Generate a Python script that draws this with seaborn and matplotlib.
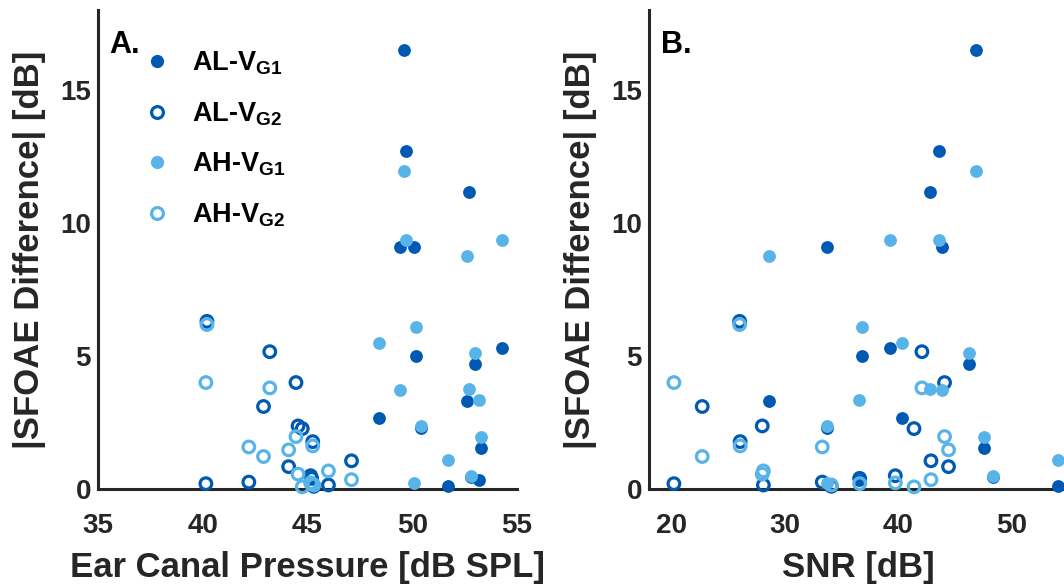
import matplotlib
matplotlib.use("Agg")
import matplotlib.pyplot as plt
import seaborn as sns
from matplotlib.lines import Line2D

# ---------------- data ----------------
# Group V_G1 subjects: ear-canal pressure [dB SPL], SNR [dB], |SFOAE difference| [dB]
vg1_pressure = [49.6, 49.7, 52.7, 50.1, 49.4, 54.3, 50.2, 53.0, 52.6, 48.4, 50.4, 53.3, 53.2, 51.7, 52.8]
vg1_snr      = [46.9, 43.6, 42.8, 33.7, 43.9, 39.3, 36.8, 46.3, 28.6, 40.3, 33.7, 47.6, 36.5, 54.1, 48.4]
al_vg1       = [16.5, 12.7, 11.15, 9.1, 9.08, 5.3, 5.0, 4.7, 3.3, 2.65, 2.3, 1.55, 0.33, 0.12, 0.45]
ah_vg1       = [11.95, 9.35, 3.77, 0.23, 3.73, 9.35, 6.07, 5.12, 8.75, 5.47, 2.37, 1.97, 3.35, 1.1, 0.5]

# Group V_G2 subjects
vg2_pressure = [40.2, 43.2, 40.15, 44.45, 42.9, 44.55, 44.75, 45.25, 42.2, 44.1, 47.1, 45.15, 46.0, 45.2, 45.3]
vg2_snr      = [26.0, 42.1, 20.2, 44.1, 22.7, 28.0, 41.4, 26.05, 33.3, 44.45, 42.9, 39.75, 28.1, 36.6, 34.1]
al_vg2       = [6.3, 5.16, 0.2, 4.0, 3.1, 2.37, 2.27, 1.78, 0.26, 0.84, 1.06, 0.5, 0.15, 0.4, 0.1]
ah_vg2       = [6.18, 3.8, 4.0, 1.97, 1.22, 0.56, 0.08, 1.62, 1.58, 1.47, 0.35, 0.23, 0.68, 0.2, 0.15]

series_labels = [r"AL-V$_{\mathbf{G1}}$", r"AL-V$_{\mathbf{G2}}$",
                 r"AH-V$_{\mathbf{G1}}$", r"AH-V$_{\mathbf{G2}}$"]
x_ticks_a = [35, 40, 45, 50, 55]
x_ticks_b = [20, 30, 40, 50]
y_ticks = [0, 5, 10, 15]

# ---------------- style ----------------
sns.set_style("white")
plt.rcParams["font.family"] = ["Liberation Sans", "DejaVu Sans"]
plt.rcParams["font.weight"] = "bold"
plt.rcParams["mathtext.fontset"] = "custom"
plt.rcParams["mathtext.rm"] = "Liberation Sans:bold"
plt.rcParams["mathtext.bf"] = "Liberation Sans:bold"
plt.rcParams["mathtext.it"] = "Liberation Sans:bold"

DARK = "#0059B3"
LIGHT = "#58B4E8"
INK = "#262626"
S_FILL = 85
S_OPEN = 70
LW_OPEN = 2.3

fig = plt.figure(figsize=(10.64, 5.86), dpi=100)
axA = fig.add_axes([98 / 1064, 97 / 586, 419 / 1064, 479 / 586])
axB = fig.add_axes([649 / 1064, 97 / 586, 419 / 1064, 479 / 586])


def draw(ax, x1, x2):
    sns.scatterplot(x=x1, y=al_vg1, ax=ax, color=DARK, s=S_FILL, linewidth=0,
                    clip_on=False, legend=False, zorder=3)
    sns.scatterplot(x=x2, y=al_vg2, ax=ax, color=DARK, facecolor="none", edgecolor=DARK,
                    s=S_OPEN, linewidth=LW_OPEN, clip_on=False, legend=False, zorder=3)
    sns.scatterplot(x=x1, y=ah_vg1, ax=ax, color=LIGHT, s=S_FILL, linewidth=0,
                    clip_on=False, legend=False, zorder=3)
    sns.scatterplot(x=x2, y=ah_vg2, ax=ax, color=LIGHT, facecolor="none", edgecolor=LIGHT,
                    s=S_OPEN, linewidth=LW_OPEN, clip_on=False, legend=False, zorder=3)


draw(axA, vg1_pressure, vg2_pressure)
draw(axB, vg1_snr, vg2_snr)

for ax, xt, xl, letter in [(axA, x_ticks_a, "Ear Canal Pressure [dB SPL]", "A."),
                           (axB, x_ticks_b, "SNR [dB]", "B.")]:
    sns.despine(ax=ax)
    ax.set_ylim(0, 18)
    ax.set_yticks(y_ticks)
    ax.set_xticks(xt)
    for sp in ("left", "bottom"):
        ax.spines[sp].set_color(INK)
        ax.spines[sp].set_linewidth(2.2)
        ax.spines[sp].set_zorder(2)
    ax.tick_params(axis="both", direction="in", length=5, width=2.2, color=INK,
                   labelsize=20, labelcolor=INK)
    ax.tick_params(axis="x", pad=17)
    ax.tick_params(axis="y", pad=5)
    for lab in ax.get_xticklabels() + ax.get_yticklabels():
        lab.set_fontweight("bold")
    ax.set_xlabel(xl, fontsize=25, fontweight="bold", color=INK, labelpad=9)
    ax.set_ylabel("|SFOAE Difference| [dB]", fontsize=25, fontweight="bold",
                  color=INK, labelpad=10)
    ax.text(0.028, 0.958, letter, transform=ax.transAxes, fontsize=22,
            fontweight="bold", color="black", va="top", ha="left")

axA.set_xlim(35, 55)
axB.set_xlim(18, 55)

handles = [
    Line2D([], [], linestyle="none", marker="o", markersize=9.5, markerfacecolor=DARK,
           markeredgewidth=0),
    Line2D([], [], linestyle="none", marker="o", markersize=8.5, markerfacecolor="none",
           markeredgecolor=DARK, markeredgewidth=LW_OPEN),
    Line2D([], [], linestyle="none", marker="o", markersize=9.5, markerfacecolor=LIGHT,
           markeredgewidth=0),
    Line2D([], [], linestyle="none", marker="o", markersize=8.5, markerfacecolor="none",
           markeredgecolor=LIGHT, markeredgewidth=LW_OPEN),
]
leg = axA.legend(handles, series_labels, loc="upper left", bbox_to_anchor=(0.075, 0.94),
                 frameon=False, fontsize=19.5, labelspacing=0.85, handletextpad=0.7,
                 handlelength=1.2, borderaxespad=0)
for t in leg.get_texts():
    t.set_color("black")

fig.savefig("out.png", dpi=100)
